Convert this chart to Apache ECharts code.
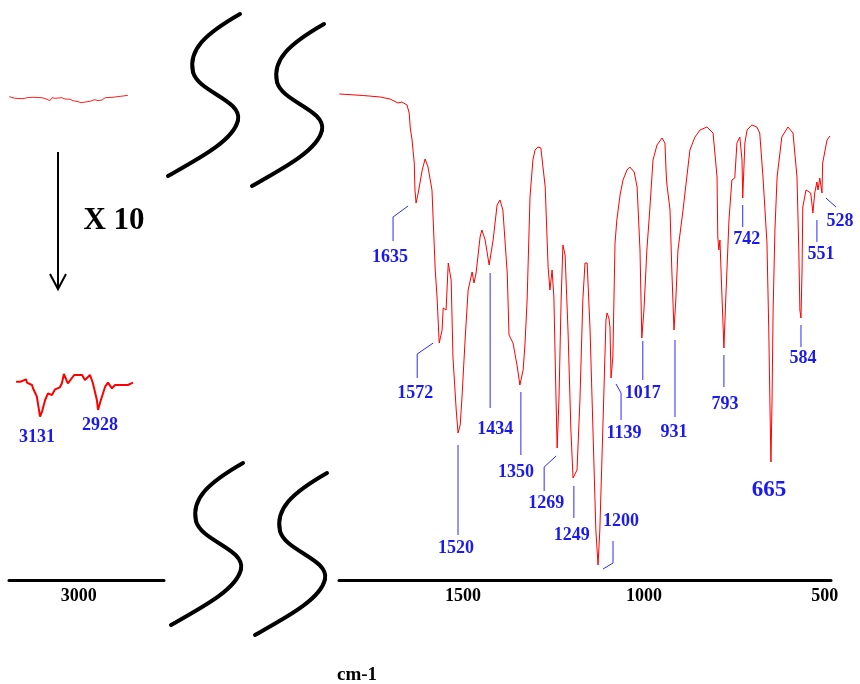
<!DOCTYPE html>
<html><head><meta charset="utf-8">
<script src="https://cdn.jsdelivr.net/npm/echarts@6/dist/echarts.min.js"></script>
<style>html,body{margin:0;padding:0;background:#fff}#c{width:860px;height:684px}</style>
</head><body><div id="c"></div>
<script>
// ---- data (wavenumber cm-1, transmittance arbitrary %) ----
const mainWavenumbers = [1842,1776,1729,1702,1680,1669,1655,1649,1646,1641,1635,1633,1630,1624,1613,1605,1597,1586,1577,1572,1566,1558,1555,1547,1541,1536,1533,1528,1519,1514,1508,1503,1494,1486,1475,1470,1464,1453,1448,1439,1428,1417,1406,1398,1390,1378,1373,1362,1351,1343,1334,1329,1323,1315,1307,1301,1293,1285,1273,1265,1260,1254,1249,1243,1240,1235,1229,1224,1218,1210,1202,1196,1191,1185,1177,1169,1163,1157,1149,1141,1133,1127,1122,1113,1105,1102,1097,1094,1091,1086,1080,1075,1066,1058,1047,1039,1027,1019,1011,1006,1000,992,984,975,964,950,942,939,937,928,923,917,912,906,892,873,859,845,826,809,798,796,793,790,785,779,774,765,757,749,743,735,729,727,721,715,702,688,680,671,660,655,652,649,646,643,638,632,619,602,588,577,572,569,566,563,561,552,547,539,533,528,522,519,514,508,506,494,486];
const mainTransmittance = [96.8,96.5,96.2,95.8,95.0,95.2,94.6,93.0,90.0,87.6,83.0,77.6,75.0,77.0,81.6,83.8,82.2,77.6,61.6,56.2,47.0,49.6,54.0,53.6,63.0,63.2,59.6,44.2,33.6,29.0,30.6,36.2,48.2,57.6,61.2,59.0,61.0,68.2,69.6,67.6,62.6,67.6,74.6,75.6,73.6,61.0,48.6,47.0,42.6,38.6,41.6,46.6,55.6,76.2,83.6,85.6,86.2,86.0,78.2,62.2,57.6,61.6,56.2,35.6,26.0,35.6,55.6,66.6,64.6,49.6,29.6,20.0,19.6,21.6,35.6,55.6,63.0,63.0,49.6,29.6,9.6,2.6,9.6,31.6,51.6,53.0,52.0,50.2,40.0,44.2,67.0,71.6,76.6,79.6,81.6,82.2,81.2,78.2,65.6,48.0,53.6,65.6,73.6,83.6,86.6,88.0,87.0,81.6,79.0,73.6,61.6,49.6,55.6,65.6,73.6,85.6,88.2,89.6,90.2,89.0,80.2,68.2,65.6,67.6,57.6,46.0,55.6,71.6,79.6,80.0,87.0,88.2,83.6,76.0,87.0,89.6,90.6,90.2,89.0,80.2,67.0,49.6,35.6,23.2,35.6,53.6,69.6,80.2,88.2,90.2,89.0,80.2,65.6,53.6,52.0,61.6,74.2,77.6,78.0,77.0,73.0,77.0,79.2,77.6,80.0,77.0,83.0,87.6,88.4];

const highWavenumbers = [3244,3224,3196,3182,3161,3129,3111,3101,3094,3083,3059,3048,3030,3020,3002,2992,2985,2960,2943,2932,2918,2907,2879,2865,2844,2827];
const highTransmittance = [96.26,95.94,95.86,96.06,96.14,96.06,95.74,95.46,96.06,95.94,96.06,95.8,95.74,95.46,95.26,95.06,95.34,95.34,95.66,95.46,95.6,96.06,96.14,96.26,96.4,96.54];

const zoomWavenumbers = [3220,3206,3196,3185,3182,3164,3161,3147,3136,3129,3118,3108,3094,3083,3066,3059,3052,3038,3016,2988,2978,2960,2950,2936,2932,2922,2907,2897,2883,2872,2827,2809];
const zoomTransmittance = [39.26,39.26,39.46,39.74,39.06,38.6,38.0,36.26,32.26,33.26,35.6,36.94,36.6,37.74,38.14,38.94,40.8,38.94,40.6,40.6,39.6,40.6,38.94,35.6,33.6,35.6,38.26,39.06,37.94,38.6,38.6,39.06];

const mainTickLabels = [1500, 1000, 500];
const highTickLabels = [3000];

const mainPeakLabels = ['1635','1572','1520','1434','1350','1269','1249','1200','1139','1017','931','793','742','665','584','551','528'];
const mainPeakWavenumbers = [1630,1566,1514,1428,1343,1240,1191,1127,1091,1006,917,779,727,649,566,533,508];
const mainPeakTransmittance = [75.0,47.0,29.0,62.6,38.6,26.0,19.6,2.6,40.0,48.0,49.6,46.0,76.0,23.2,52.0,73.0,77.0];

const highPeakLabels = ['3131','2928'];
const highPeakWavenumbers = [3136,2932];
const highPeakTransmittance = [32.26,33.6];

// ---- layout / style (pixel offsets of annotation leaders & labels relative to their peak) ----
const annotLayout = {
  '1635': {leader: [[-8,3],[-23,14],[-23,38]], label: [-26,54]},
  '1572': {leader: [[-6,0],[-22,11],[-22,35]], label: [-24,50]},
  '1520': {leader: [[0,12],[0,102]], label: [-2,115]},
  '1434': {leader: [[1,8],[1,143]], label: [6,164]},
  '1350': {leader: [[1,7],[1,70]], label: [-4,87]},
  '1269': {leader: [[-1,8],[-13,19],[-13,43]], label: [-11,55]},
  '1249': {leader: [[-1,6],[-1,38]], label: [-3,55]},
  '1200': {leader: [[5,4],[15,-2],[15,-24]], label: [23,-44]},
  '1139': {leader: [[5,6],[10,15],[10,42]], label: [13,55]},
  '1017': {leader: [[1,3],[1,42]], label: [1,55]},
  '931':  {leader: [[1,10],[1,87]], label: [0,102]},
  '793':  {leader: [[0,7],[0,39]], label: [1,56]},
  '742':  {leader: [[0,7],[0,29]], label: [4,41]},
  '665':  {leader: null, label: [-2,28], size: 23},
  '584':  {leader: [[0,7],[0,29]], label: [2,40]},
  '551':  {leader: [[4,7],[4,29]], label: [8,41]},
  '528':  {leader: [[4,5],[14,14]], label: [18,28]},
  '3131': {leader: null, label: [-3,21]},
  '2928': {leader: null, label: [2,15]}
};
const SERIF = '"Liberation Serif","Times New Roman",serif';
const BLUE = '#1a1af0';

function zip(a, b) { return a.map((v, i) => [v, b[i]]); }

function annotRenderer(labels) {
  return function (params, api) {
    const txt = labels[params.dataIndex];
    const p = api.coord([api.value(0), api.value(1)]);
    const L = annotLayout[txt];
    const children = [];
    if (L.leader) {
      children.push({
        type: 'polyline',
        shape: {points: L.leader.map(o => [p[0] + o[0], p[1] + o[1]])},
        style: {stroke: '#2b2bff', lineWidth: 1, fill: 'none'}
      });
    }
    children.push({
      type: 'text',
      x: p[0] + L.label[0], y: p[1] + L.label[1],
      style: {text: txt, fill: BLUE, fontFamily: SERIF, fontWeight: 'bold',
              fontSize: L.size || 18, align: 'center', verticalAlign: 'middle'}
    });
    return {type: 'group', children};
  };
}

// axis-break "S" symbol: three cubic segments [x1,y1,cp1x,cp1y,cp2x,cp2y,x2,y2]
const sSegments = [
  [240,14, 205,34, 188,50, 193,72],
  [193,72, 198,92, 242,100, 238,120],
  [238,120, 234,140, 200,158, 168,176]
];
const breakOffsets = [[0,0],[84,10],[3,449],[87,459]];
const breakGraphics = [];
breakOffsets.forEach(o => sSegments.forEach(s => breakGraphics.push({
  type: 'bezierCurve', silent: true, x: o[0], y: o[1],
  shape: {x1: s[0], y1: s[1], cpx1: s[2], cpy1: s[3], cpx2: s[4], cpy2: s[5], x2: s[6], y2: s[7]},
  style: {stroke: '#000', lineWidth: 4, fill: null, lineCap: 'round'}
})));

const chart = echarts.init(document.getElementById('c'), null, {renderer: 'canvas'});
const axisCommon = {
  type: 'value', inverse: true,
  axisLine: {show: true, onZero: false, lineStyle: {color: '#000', width: 3}},
  axisTick: {show: false},
  splitLine: {show: false},
};
const tickLabelStyle = {margin: 7, color: '#000', fontFamily: SERIF, fontWeight: 'bold', fontSize: 18,
                        formatter: v => String(v)};
chart.setOption({
  animation: false,
  backgroundColor: '#fff',
  grid: [
    {left: 9, width: 155, top: 78, height: 502},
    {left: 339, width: 492, top: 78, height: 502}
  ],
  xAxis: [
    Object.assign({gridIndex: 0, min: 2700, max: 3245,
      axisLabel: Object.assign({customValues: highTickLabels}, tickLabelStyle)}, axisCommon),
    Object.assign({gridIndex: 1, min: 483, max: 1843,
      axisLabel: Object.assign({customValues: mainTickLabels}, tickLabelStyle)}, axisCommon)
  ],
  yAxis: [
    {gridIndex: 0, type: 'value', min: -0.4, max: 100, show: false},
    {gridIndex: 1, type: 'value', min: -0.4, max: 100, show: false}
  ],
  series: [
    {type: 'line', xAxisIndex: 1, yAxisIndex: 1, data: zip(mainWavenumbers, mainTransmittance),
     showSymbol: false, lineStyle: {color: '#ff0000', width: 1}},
    {type: 'line', xAxisIndex: 0, yAxisIndex: 0, data: zip(highWavenumbers, highTransmittance),
     showSymbol: false, lineStyle: {color: '#ff2020', width: 1}},
    {type: 'line', xAxisIndex: 0, yAxisIndex: 0, data: zip(zoomWavenumbers, zoomTransmittance),
     showSymbol: false, lineStyle: {color: '#ff0000', width: 2}},
    {type: 'custom', xAxisIndex: 1, yAxisIndex: 1, clip: false, silent: true,
     data: zip(mainPeakWavenumbers, mainPeakTransmittance), renderItem: annotRenderer(mainPeakLabels)},
    {type: 'custom', xAxisIndex: 0, yAxisIndex: 0, clip: false, silent: true,
     data: zip(highPeakWavenumbers, highPeakTransmittance), renderItem: annotRenderer(highPeakLabels)}
  ],
  graphic: [
    ...breakGraphics,
    {type: 'line', silent: true, shape: {x1: 58, y1: 152, x2: 58, y2: 289}, style: {stroke: '#000', lineWidth: 2}},
    {type: 'polyline', silent: true, shape: {points: [[50,274],[58,289],[66,274]]}, style: {stroke: '#000', lineWidth: 2, fill: null}},
    {type: 'text', silent: true, x: 114, y: 221, style: {text: 'X 10', fill: '#000', fontFamily: SERIF, fontWeight: 'bold', fontSize: 31, align: 'center', verticalAlign: 'middle'}},
    {type: 'text', silent: true, x: 357, y: 675, style: {text: 'cm-1', fill: '#000', fontFamily: SERIF, fontWeight: 'bold', fontSize: 19, align: 'center', verticalAlign: 'middle'}}
  ]
});
</script></body></html>
